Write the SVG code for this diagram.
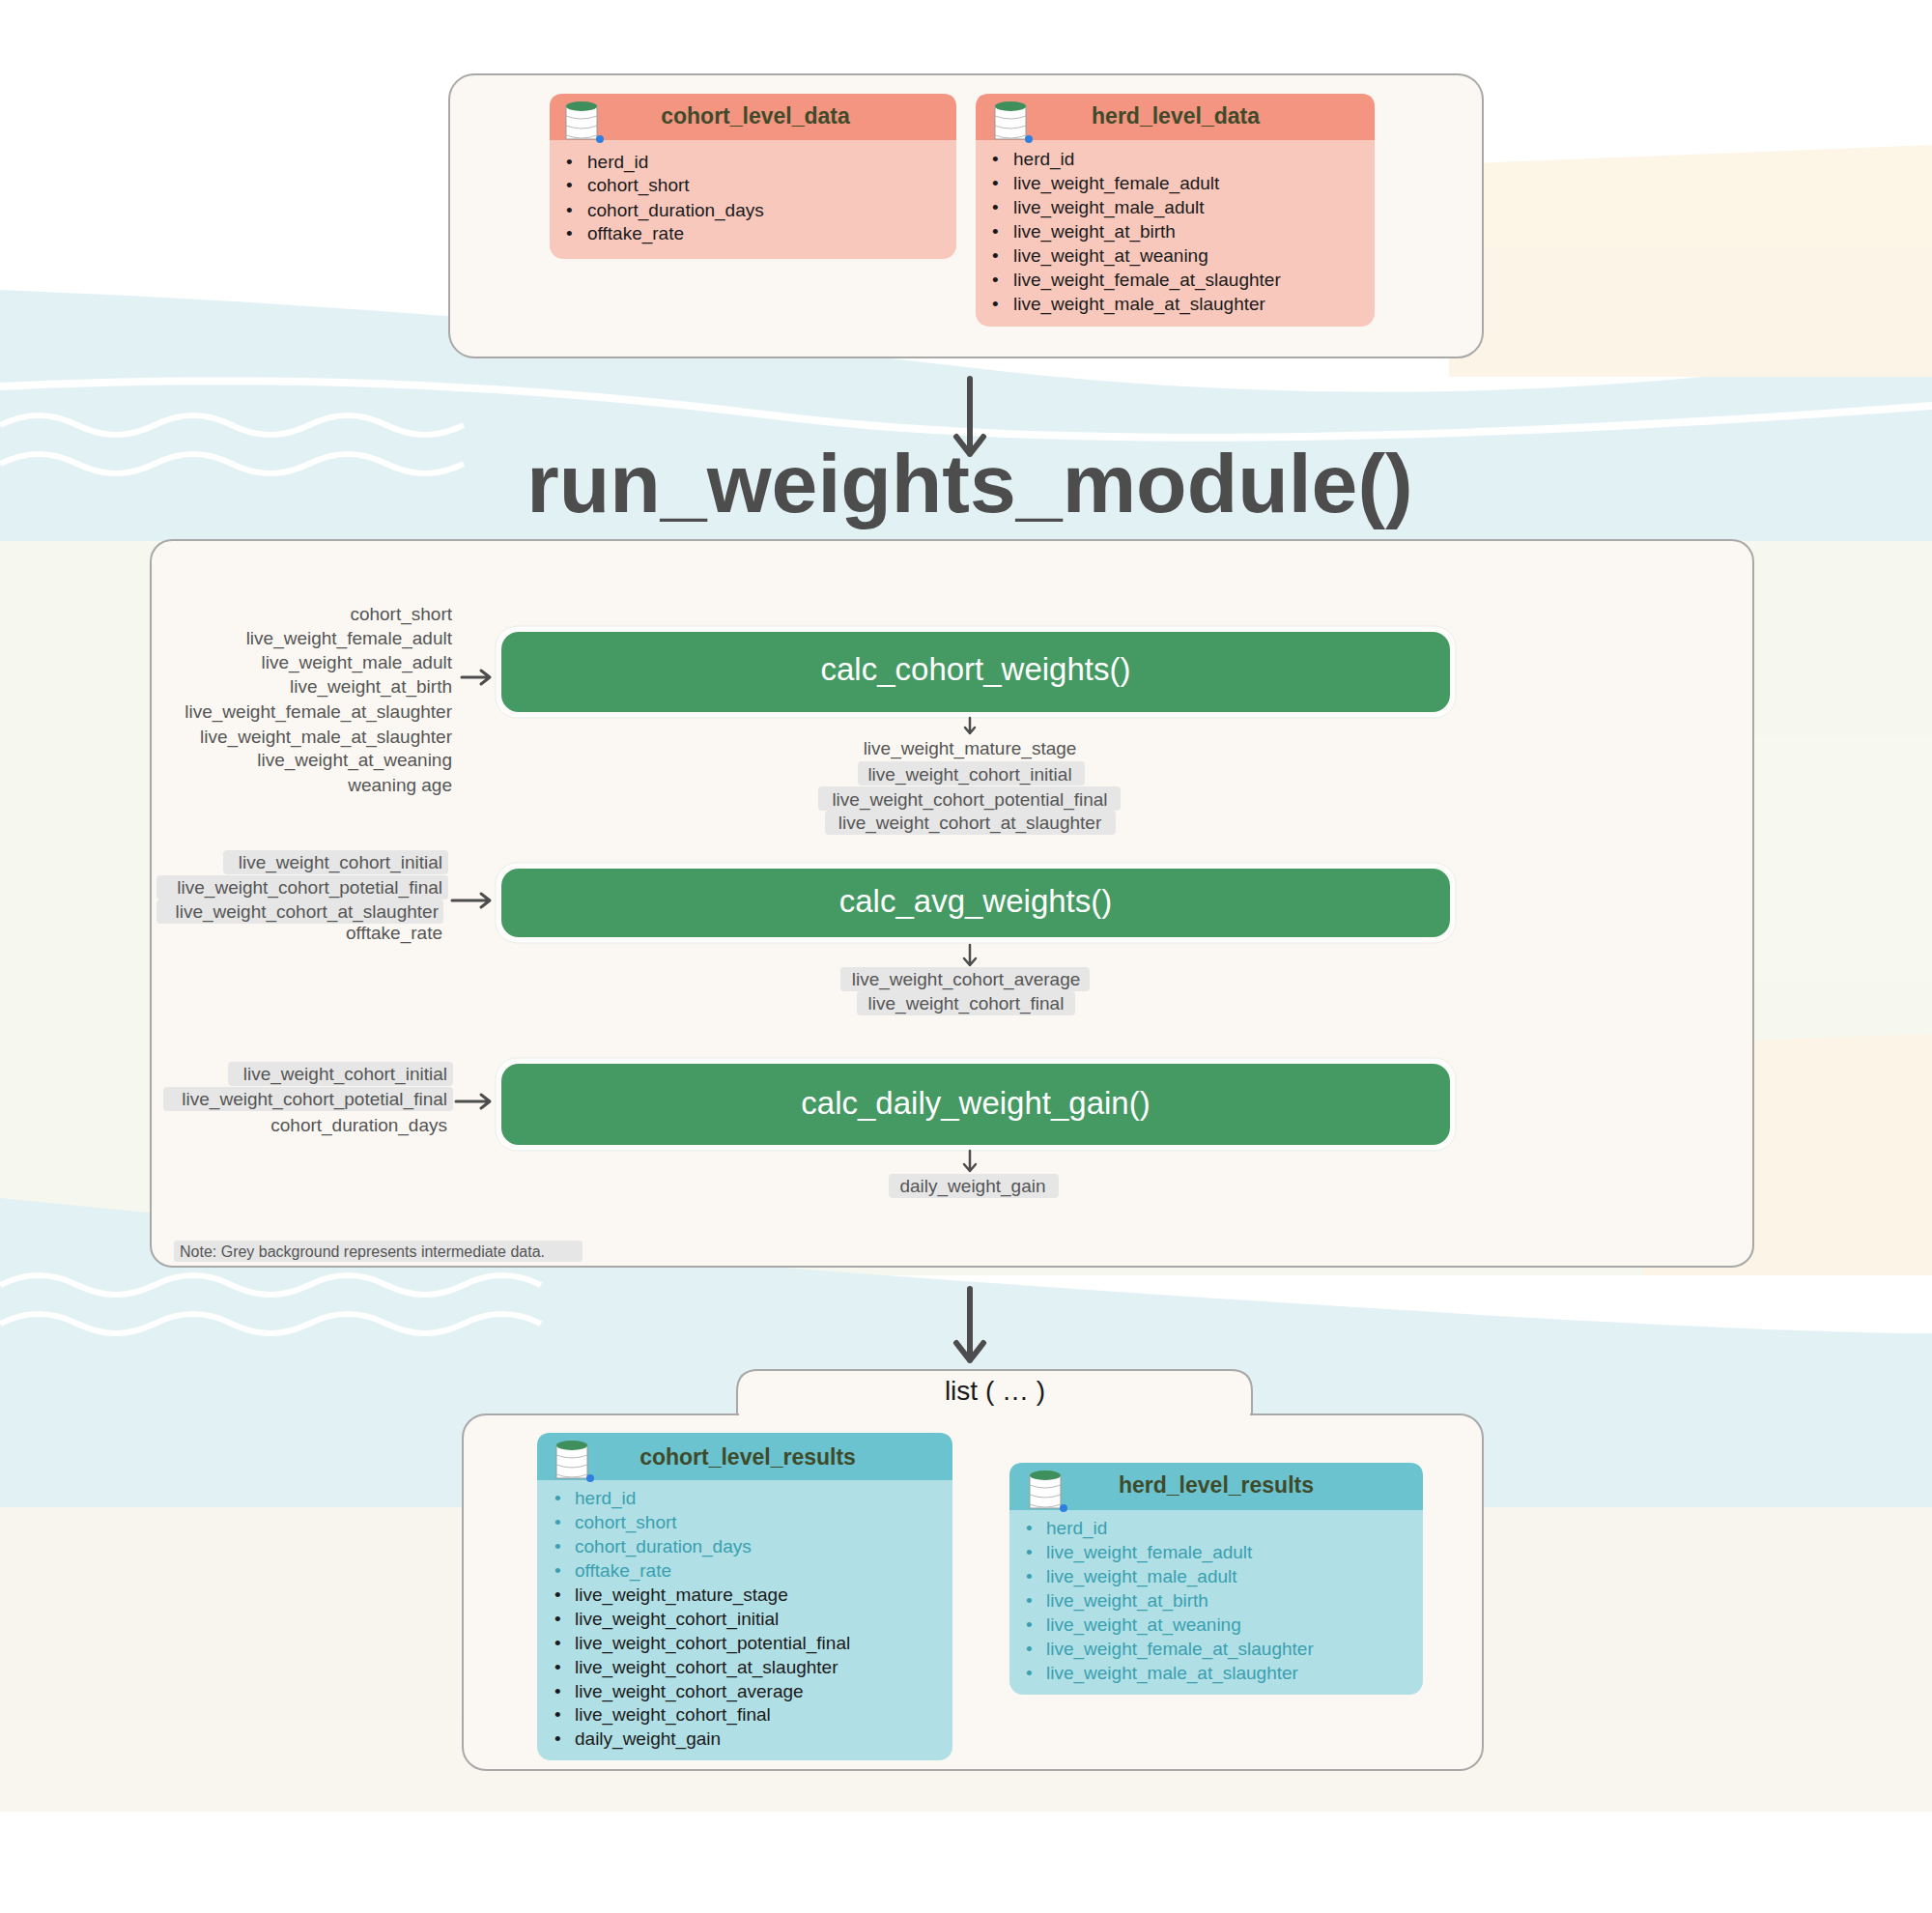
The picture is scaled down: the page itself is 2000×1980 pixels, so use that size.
<svg xmlns="http://www.w3.org/2000/svg" width="2000" height="1980" viewBox="0 0 2000 1980">
<defs>
<style>
.f{font-family:"Liberation Sans",Arial,sans-serif}
.cont{fill:#fbf8f3;stroke:#a8a8a8;stroke-width:2}
.item{font-family:"Liberation Sans",Arial,sans-serif;font-size:19px;fill:#1a1a1a}
.teal{fill:#3aa0b0}
.lbl{font-family:"Liberation Sans",Arial,sans-serif;font-size:19px;fill:#555}
.gb{fill:#e6e6e6}
.title{font-family:"Liberation Sans",Arial,sans-serif;font-size:23px;font-weight:bold;fill:#3f4a2a;text-anchor:middle}
.fn{font-family:"Liberation Sans",Arial,sans-serif;font-size:33px;fill:#fff;text-anchor:middle}
.green{fill:#459a63}
.halo{fill:#fff;fill-opacity:0.7;stroke:#e8efe8}
.ar{stroke:#4d4d4d;fill:none;stroke-linecap:round;stroke-linejoin:round}
</style>
<g id="db">
<rect x="0" y="6" width="32" height="34" fill="#fff" stroke="#999" stroke-width="1"/>
<ellipse cx="16" cy="6" rx="16" ry="5" fill="#3f8f5c"/>
<path d="M0 16 Q16 22 32 16 M0 26 Q16 32 32 26 M0 36 Q16 42 32 36" stroke="#bbb" fill="none"/>
<circle cx="35" cy="40" r="4" fill="#2f7fe0"/>
</g>
</defs>
<rect width="2000" height="1980" fill="#fff"/>
<g id="background" opacity="0.6">
<path d="M0 300 Q500 320 1000 380 T2000 360 L2000 560 L0 560Z" fill="#cfe9ee"/>
<path d="M0 400 Q400 380 800 430 T2000 420" stroke="#fff" stroke-width="8" fill="none"/>
<path d="M1500 170 L2000 150 L2000 390 L1500 390Z" fill="#fbeed6"/>
<path d="M0 560 L2000 560 L2000 1320 L0 1320Z" fill="#f1f3e6"/>
<path d="M1700 1080 L2000 1070 L2000 1320 L1700 1320Z" fill="#fbeed6"/>
<path d="M0 1240 Q600 1300 1200 1340 T2000 1380 L2000 1560 L0 1560Z" fill="#cfe9ee"/>
<path d="M0 1560 L2000 1560 L2000 1875 L0 1875Z" fill="#f4f0e3"/>
<path d="M0 1330 q40 -20 80 0 t80 0 t80 0 t80 0 t80 0 t80 0 t80 0 M0 1370 q40 -20 80 0 t80 0 t80 0 t80 0 t80 0 t80 0 t80 0 M0 440 q40 -20 80 0 t80 0 t80 0 t80 0 t80 0 t80 0 M0 480 q40 -20 80 0 t80 0 t80 0 t80 0 t80 0 t80 0" stroke="#fff" stroke-width="6" fill="none"/>
</g>

<g id="input-container">
<rect class="cont" x="465" y="77" width="1070" height="293" rx="26"/>
</g>
<g id="cohort_level_data">
<rect x="569" y="97" width="421" height="171" rx="14" fill="#f8c8bd"/>
<path d="M569 145 V111 Q569 97 583 97 H976 Q990 97 990 111 V145Z" fill="#f39580"/>
<use href="#db" x="586" y="104"/>
<text class="title" x="782" y="128">cohort_level_data</text>
<g class="item">
<text x="586" y="174">•</text><text x="608" y="174">herd_id</text>
<text x="586" y="198">•</text><text x="608" y="198">cohort_short</text>
<text x="586" y="224">•</text><text x="608" y="224">cohort_duration_days</text>
<text x="586" y="248">•</text><text x="608" y="248">offtake_rate</text>
</g>
</g>
<g id="herd_level_data">
<rect x="1010" y="97" width="413" height="241" rx="14" fill="#f8c8bd"/>
<path d="M1010 145 V111 Q1010 97 1024 97 H1409 Q1423 97 1423 111 V145Z" fill="#f39580"/>
<use href="#db" x="1030" y="104"/>
<text class="title" x="1217" y="128">herd_level_data</text>
<g class="item">
<text x="1027" y="171">•</text><text x="1049" y="171">herd_id</text>
<text x="1027" y="196">•</text><text x="1049" y="196">live_weight_female_adult</text>
<text x="1027" y="221">•</text><text x="1049" y="221">live_weight_male_adult</text>
<text x="1027" y="246">•</text><text x="1049" y="246">live_weight_at_birth</text>
<text x="1027" y="271">•</text><text x="1049" y="271">live_weight_at_weaning</text>
<text x="1027" y="296">•</text><text x="1049" y="296">live_weight_female_at_slaughter</text>
<text x="1027" y="321">•</text><text x="1049" y="321">live_weight_male_at_slaughter</text>
</g>
</g>

<g id="title">
<text class="f" x="1004" y="530" font-size="86" font-weight="bold" fill="#4d4d4d" text-anchor="middle">run_weights_module()</text>
</g>

<g id="module-container">
<rect class="cont" x="156" y="559" width="1659" height="752" rx="22"/>
<rect class="gb" x="180" y="1284" width="423" height="22" rx="3"/>
<text class="f" x="186" y="1301" font-size="16" fill="#555">Note: Grey background represents intermediate data.</text>
</g>

<g id="calc_cohort_weights">
<rect class="halo" x="513" y="648" width="994" height="95" rx="22"/>
<rect class="green" x="519" y="654" width="982" height="83" rx="18"/>
<text class="fn" x="1010" y="704">calc_cohort_weights()</text>
</g>
<g id="calc_avg_weights">
<rect class="halo" x="513" y="893" width="994" height="83" rx="22"/>
<rect class="green" x="519" y="899" width="982" height="71" rx="18"/>
<text class="fn" x="1010" y="944">calc_avg_weights()</text>
</g>
<g id="calc_daily_weight_gain">
<rect class="halo" x="513" y="1095" width="994" height="96" rx="22"/>
<rect class="green" x="519" y="1101" width="982" height="84" rx="18"/>
<text class="fn" x="1010" y="1153">calc_daily_weight_gain()</text>
</g>

<g id="labels">
<g class="lbl" text-anchor="end">
<text x="468" y="642">cohort_short</text>
<text x="468" y="667">live_weight_female_adult</text>
<text x="468" y="692">live_weight_male_adult</text>
<text x="468" y="717">live_weight_at_birth</text>
<text x="468" y="743">live_weight_female_at_slaughter</text>
<text x="468" y="769">live_weight_male_at_slaughter</text>
<text x="468" y="793">live_weight_at_weaning</text>
<text x="468" y="819">weaning age</text>
</g>
<rect class="gb" x="888" y="788" width="235" height="25" rx="4"/>
<rect class="gb" x="847" y="814" width="313" height="25" rx="4"/>
<rect class="gb" x="854" y="839" width="301" height="25" rx="4"/>
<g class="lbl" text-anchor="middle">
<text x="1004" y="781">live_weight_mature_stage</text>
<text x="1004" y="808">live_weight_cohort_initial</text>
<text x="1004" y="834">live_weight_cohort_potential_final</text>
<text x="1004" y="858">live_weight_cohort_at_slaughter</text>
</g>
<rect class="gb" x="231" y="880" width="233" height="25" rx="4"/>
<rect class="gb" x="162" y="906" width="302" height="25" rx="4"/>
<rect class="gb" x="162" y="931" width="297" height="25" rx="4"/>
<g class="lbl" text-anchor="end">
<text x="458" y="899">live_weight_cohort_initial</text>
<text x="458" y="925">live_weight_cohort_potetial_final</text>
<text x="454" y="950">live_weight_cohort_at_slaughter</text>
<text x="458" y="972">offtake_rate</text>
</g>
<rect class="gb" x="870" y="1001" width="258" height="25" rx="4"/>
<rect class="gb" x="887" y="1026" width="226" height="25" rx="4"/>
<g class="lbl" text-anchor="middle">
<text x="1000" y="1020">live_weight_cohort_average</text>
<text x="1000" y="1045">live_weight_cohort_final</text>
</g>
<rect class="gb" x="236" y="1099" width="233" height="25" rx="4"/>
<rect class="gb" x="169" y="1125" width="300" height="25" rx="4"/>
<g class="lbl" text-anchor="end">
<text x="463" y="1118">live_weight_cohort_initial</text>
<text x="463" y="1144">live_weight_cohort_potetial_final</text>
<text x="463" y="1171">cohort_duration_days</text>
</g>
<rect class="gb" x="920" y="1215" width="176" height="25" rx="4"/>
<text class="lbl" x="1007" y="1234" text-anchor="middle">daily_weight_gain</text>
</g>

<g id="connectors">
<path class="ar" d="M1004 392 V470 M990 452 L1004 470 L1018 452" stroke-width="6"/>
<path class="ar" d="M478 701 H507 M498 694 L507 701 L498 708" stroke-width="3"/>
<path class="ar" d="M1004 743 V759 M999 753 L1004 759 L1009 753" stroke-width="2.5"/>
<path class="ar" d="M468 932 H507 M498 925 L507 932 L498 939" stroke-width="3"/>
<path class="ar" d="M1004 978 V999 M998 992 L1004 999 L1010 992" stroke-width="2.5"/>
<path class="ar" d="M472 1140 H507 M498 1133 L507 1140 L498 1147" stroke-width="3"/>
<path class="ar" d="M1004 1191 V1212 M998 1205 L1004 1212 L1010 1205" stroke-width="2.5"/>
<path class="ar" d="M1004 1334 V1408 M990 1390 L1004 1408 L1018 1390" stroke-width="6"/>
</g>

<g id="output-container">
<path class="cont" d="M763 1466 V1440 Q763 1418 785 1418 H1274 Q1296 1418 1296 1440 V1466"/>
<rect class="cont" x="479" y="1464" width="1056" height="368" rx="24"/>
<rect x="765" y="1450" width="529" height="16" fill="#fbf8f3"/>
<text class="f" x="1030" y="1449" font-size="28" fill="#1a1a1a" text-anchor="middle">list ( … )</text>
</g>
<g id="cohort_level_results">
<rect x="556" y="1483" width="430" height="339" rx="14" fill="#b0dfe5"/>
<path d="M556 1532 V1497 Q556 1483 570 1483 H972 Q986 1483 986 1497 V1532Z" fill="#6ac3cf"/>
<use href="#db" x="576" y="1490"/>
<text class="title" x="774" y="1516">cohort_level_results</text>
<g class="item">
<text class="teal" x="574" y="1557">•</text><text class="teal" x="595" y="1557">herd_id</text>
<text class="teal" x="574" y="1582">•</text><text class="teal" x="595" y="1582">cohort_short</text>
<text class="teal" x="574" y="1607">•</text><text class="teal" x="595" y="1607">cohort_duration_days</text>
<text class="teal" x="574" y="1632">•</text><text class="teal" x="595" y="1632">offtake_rate</text>
<text x="574" y="1657">•</text><text x="595" y="1657">live_weight_mature_stage</text>
<text x="574" y="1682">•</text><text x="595" y="1682">live_weight_cohort_initial</text>
<text x="574" y="1707">•</text><text x="595" y="1707">live_weight_cohort_potential_final</text>
<text x="574" y="1732">•</text><text x="595" y="1732">live_weight_cohort_at_slaughter</text>
<text x="574" y="1757">•</text><text x="595" y="1757">live_weight_cohort_average</text>
<text x="574" y="1781">•</text><text x="595" y="1781">live_weight_cohort_final</text>
<text x="574" y="1806">•</text><text x="595" y="1806">daily_weight_gain</text>
</g>
</g>
<g id="herd_level_results">
<rect x="1045" y="1514" width="428" height="240" rx="14" fill="#b0dfe5"/>
<path d="M1045 1563 V1528 Q1045 1514 1059 1514 H1459 Q1473 1514 1473 1528 V1563Z" fill="#6ac3cf"/>
<use href="#db" x="1066" y="1521"/>
<text class="title" x="1259" y="1545">herd_level_results</text>
<g class="item teal">
<text x="1062" y="1588">•</text><text x="1083" y="1588">herd_id</text>
<text x="1062" y="1613">•</text><text x="1083" y="1613">live_weight_female_adult</text>
<text x="1062" y="1638">•</text><text x="1083" y="1638">live_weight_male_adult</text>
<text x="1062" y="1663">•</text><text x="1083" y="1663">live_weight_at_birth</text>
<text x="1062" y="1688">•</text><text x="1083" y="1688">live_weight_at_weaning</text>
<text x="1062" y="1713">•</text><text x="1083" y="1713">live_weight_female_at_slaughter</text>
<text x="1062" y="1738">•</text><text x="1083" y="1738">live_weight_male_at_slaughter</text>
</g>
</g>
</svg>
